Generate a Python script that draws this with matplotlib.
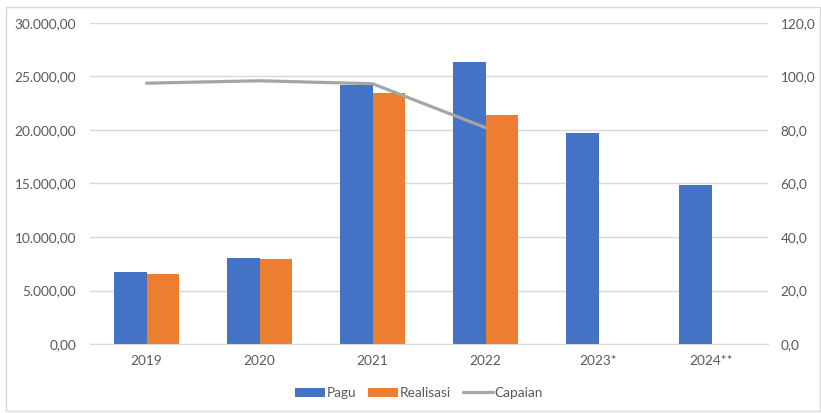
import numpy as np
import matplotlib
matplotlib.use("Agg")
import matplotlib.pyplot as plt
from matplotlib.patches import Rectangle
from matplotlib.ticker import FuncFormatter

# data
years = ["2019", "2020", "2021", "2022", "2023*", "2024**"]
pagu = [6700, 8050, 24200, 26350, 19720, 14850]
realisasi = [6530, 7940, 23430, 21400, np.nan, np.nan]
capaian = [97.5, 98.4, 97.3, 80.9, np.nan, np.nan]

blue = "#4472c4"
orange = "#ed7d31"
gray = "#a5a5a5"
txt = "#595959"
grid = "#d9d9d9"

plt.rcParams["font.family"] = ["Lato", "DejaVu Sans"]

fig = plt.figure(figsize=(8.21, 4.13), dpi=100)
ax = fig.add_axes([90 / 821, 69 / 413, 678 / 821, 321 / 413])
ax2 = ax.twinx()

x = np.arange(len(years))
w = 0.29
ax.bar(x - w / 2, pagu, w, color=blue, label="Pagu", zorder=2)
ax.bar(x + w / 2, realisasi, w, color=orange, label="Realisasi", zorder=2)
ax2.plot(x, capaian, color=gray, lw=2.3, label="Capaian", solid_capstyle="round")

ax.set_xlim(-0.5, len(years) - 0.5)
ax.set_ylim(0, 30000)
ax.set_yticks(np.arange(0, 30001, 5000))
ax2.set_ylim(0, 120)
ax2.set_yticks(np.arange(0, 121, 20))

def fmt_left(v, pos):
    return f"{v:,.2f}".replace(",", "X").replace(".", ",").replace("X", ".")

def fmt_right(v, pos):
    return f"{v:.1f}".replace(".", ",")

ax.yaxis.set_major_formatter(FuncFormatter(fmt_left))
ax2.yaxis.set_major_formatter(FuncFormatter(fmt_right))

ax.set_xticks(x)
ax.set_xticklabels(years)
ax.grid(axis="y", color=grid, lw=1, zorder=0)
ax.set_axisbelow(True)

for a in (ax, ax2):
    for s in a.spines.values():
        s.set_visible(False)
    a.tick_params(length=0, labelsize=9.8, colors=txt)
ax.spines["bottom"].set_visible(True)
ax.spines["bottom"].set_color(grid)
ax.tick_params(axis="y", pad=10)
ax2.tick_params(axis="y", pad=9)
ax.tick_params(axis="x", pad=8)

h1, l1 = ax.get_legend_handles_labels()
h2, l2 = ax2.get_legend_handles_labels()
fig.legend(h1 + h2, l1 + l2, loc="center", bbox_to_anchor=(419 / 821, 1 - 393 / 413),
           ncol=3, frameon=False, fontsize=9.8, labelcolor=txt,
           handlelength=2.2, handleheight=0.6, handletextpad=0.1, columnspacing=0.9)

fig.patches.append(Rectangle((6 / 821, 2 / 413), 814 / 821, 404 / 413, transform=fig.transFigure,
                             fill=False, edgecolor=grid, lw=1))

fig.savefig("out.png", dpi=100)
